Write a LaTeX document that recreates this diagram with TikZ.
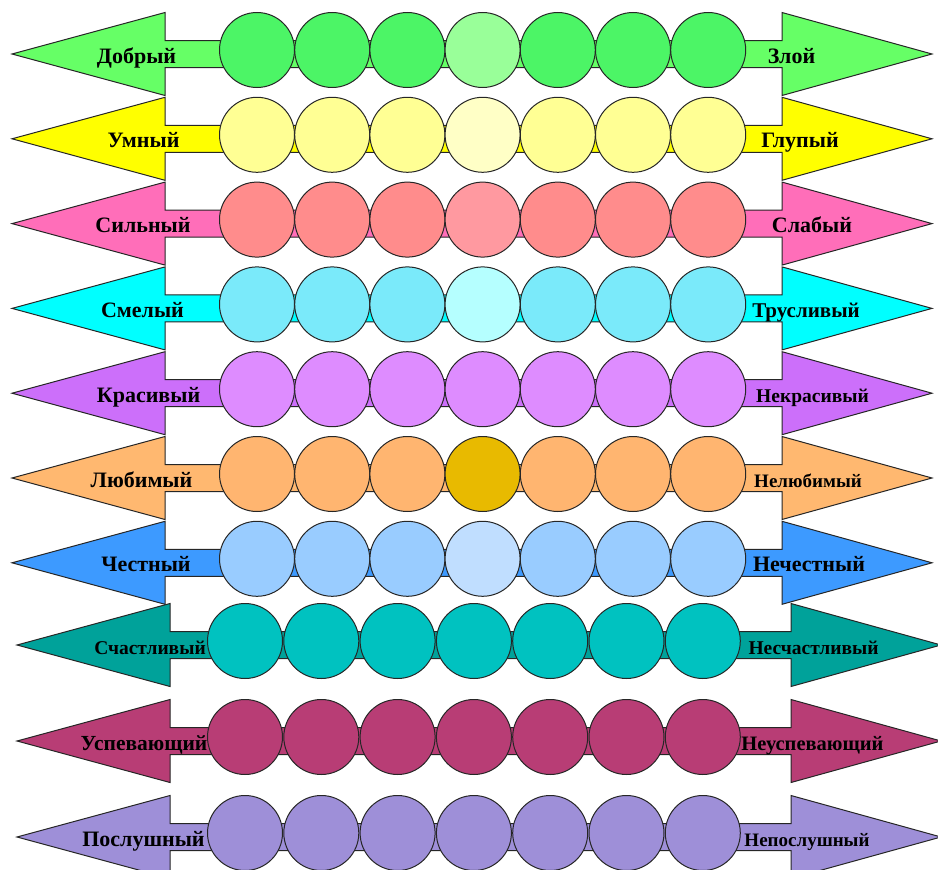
\documentclass[tikz,border=0pt]{standalone}
\usepackage{fontspec}
\setmainfont{Liberation Serif}

% arrow colours
\definecolor{arrKind}{HTML}{66FF66}
\definecolor{arrSmart}{HTML}{FFFF00}
\definecolor{arrStrong}{HTML}{FF6EB9}
\definecolor{arrBrave}{HTML}{00FFFF}
\definecolor{arrPretty}{HTML}{CC6FFA}
\definecolor{arrLoved}{HTML}{FFB870}
\definecolor{arrHonest}{HTML}{3D9AFF}
\definecolor{arrHappy}{HTML}{00A29A}
\definecolor{arrGood}{HTML}{B83D75}
\definecolor{arrObey}{HTML}{9E8FD8}
% bead colours
\definecolor{beadKind}{HTML}{4CF566}
\definecolor{midKind}{HTML}{99FF99}
\definecolor{beadSmart}{HTML}{FFFF94}
\definecolor{midSmart}{HTML}{FFFFC6}
\definecolor{beadStrong}{HTML}{FF8C8C}
\definecolor{midStrong}{HTML}{FF99A0}
\definecolor{beadBrave}{HTML}{7AEAFA}
\definecolor{midBrave}{HTML}{B5FFFF}
\definecolor{beadPretty}{HTML}{DE8CFF}
\definecolor{beadLoved}{HTML}{FFB570}
\definecolor{midLoved}{HTML}{E8BA00}
\definecolor{beadHonest}{HTML}{99CCFF}
\definecolor{midHonest}{HTML}{C0DEFF}
\definecolor{beadHappy}{HTML}{00C2C0}

\begin{document}
\begin{tikzpicture}[
        x=1pt, y=-1pt,
        band/.style={draw=black!85, line width=1pt},
        bead/.style={draw=black!85, line width=1pt, circle, minimum size=75pt, inner sep=0pt},
        word/.style={anchor=base, inner sep=0pt, text=black}
    ]
    \clip (0,0) rectangle (938,870);

    % --- Rows: y / tips / beads / colours / left word / right word ---
    \foreach \row/\y/\xl/\xr/\bx/\bs/\ca/\cb/\cm/\lw/\lx/\lsz/\rw/\rx/\rsz in {
        1/54/12/932/257/75.2/arrKind/beadKind/midKind/Добрый/136.5/22/Злой/791.5/22,
        2/138.8/12/932/257/75.2/arrSmart/beadSmart/midSmart/Умный/143.5/22/Глупый/800/22,
        3/223.6/12/932/257/75.2/arrStrong/beadStrong/midStrong/Сильный/143/22/Слабый/812/22,
        4/308.4/12/932/257/75.2/arrBrave/beadBrave/midBrave/Смелый/142.5/22/Трусливый/806/21,
        5/393.2/12/932/257/75.2/arrPretty/beadPretty/beadPretty/Красивый/148.5/22/Некрасивый/812.5/19.5,
        6/478/12/932/257/75.2/arrLoved/beadLoved/midLoved/Любимый/141.5/22/Нелюбимый/808/19,
        7/562.8/12/932/257/75.2/arrHonest/beadHonest/midHonest/Честный/146/22/Нечестный/809/22,
        8/645/17/941/245/76.3/arrHappy/beadHappy/beadHappy/Счастливый/150/19.5/Несчастливый/813.5/19.5,
        9/741/17/941/245/76.3/arrGood/arrGood/arrGood/Успевающий/144/21.5/Неуспевающий/812.5/20.5,
        10/837/17/941/245/76.3/arrObey/arrObey/arrObey/Послушный/143.5/22/Непослушный/807/19} {
        % double arrow
        \draw[band, fill=\ca] (\xl,\y) -- (\xl+153,\y-41.5) -- (\xl+153,\y-13.5)
            -- (\xr-150,\y-13.5) -- (\xr-150,\y-41.5) -- (\xr,\y)
            -- (\xr-150,\y+41.5) -- (\xr-150,\y+13.5) -- (\xl+153,\y+13.5)
            -- (\xl+153,\y+41.5) -- cycle;
        % words
        \node[word, font=\fontsize{\lsz}{\lsz}\selectfont\bfseries] (l\row) at (\lx,\y+9) {\lw};
        \node[word, font=\fontsize{\rsz}{\rsz}\selectfont\bfseries] (r\row) at (\rx,\y+9) {\rw};
        % beads
        \foreach \k in {0,...,6} {
            \ifnum\k=3 \def\fc{\cm}\else\def\fc{\cb}\fi
            \node[bead, fill=\fc] (b\row-\k) at (\bx+\bs*\k,\y-4) {};
        }
    }

\end{tikzpicture}
\end{document}
